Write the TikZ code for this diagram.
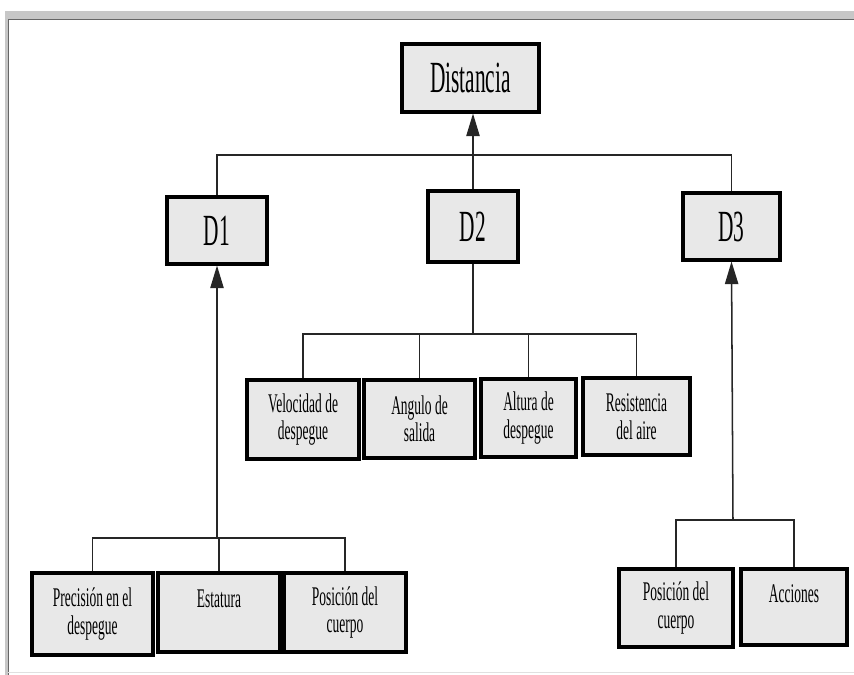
\documentclass[tikz,border=0pt]{standalone}
\usepackage{fontspec}
\newfontfamily\boxfont[FakeStretch=0.5]{Liberation Serif}
\newfontfamily\bigfont[FakeStretch=0.48]{Liberation Serif}
\usetikzlibrary{arrows.meta}

\begin{document}
\begin{tikzpicture}[x=0.03cm, y=-0.03cm,
  box/.style={draw=black, fill=black!9, line width=2.6pt, align=center,
              inner sep=2pt, font=\boxfont\fontsize{23}{23.5}\selectfont},
  bigbox/.style={box, font=\bigfont\fontsize{38}{40}\selectfont},
  line/.style={line width=1.3pt, color=black!85},
  arr/.style={line, -{Triangle[length=0.68cm, width=0.4cm]}},
]
\useasboundingbox (0,0) rectangle (854,675);
% ---- page frame ----
\fill[black!22] (5,11) rectangle (854,19);
\fill[black!22] (5,11) rectangle (8,675);
\draw[black!60, line width=0.8pt] (8,675) |- (854,19.5);
\draw[black!12, line width=0.6pt] (8,672) -- (854,672);
% ---- top level ----
\node[bigbox, minimum width=4.11cm, minimum height=2.04cm] at (470.5,78)  (dist) {Distancia};
\node[bigbox, minimum width=3.0cm,  minimum height=2.01cm] at (217,230.5) (d1) {D1};
\node[bigbox, minimum width=2.7cm,  minimum height=2.13cm] at (473,226.5) (d2) {D2};
\node[bigbox, minimum width=2.91cm, minimum height=2.01cm] at (731.5,226.5) (d3) {D3};
\coordinate (top) at (473,155);
\draw[arr] (d2.north) -- (d2.north |- dist.south);
\draw[line] (d1.north) |- (top) -| (d3.north);
% ---- D2 branch ----
\node[box, minimum width=3.36cm, minimum height=2.37cm] at (303,419.5)   (vel) {Velocidad de\\despegue};
\node[box, minimum width=3.33cm, minimum height=2.34cm] at (419.5,419)   (ang) {Angulo de\\salida};
\node[box, minimum width=2.85cm, minimum height=2.34cm] at (528.5,418)   (alt) {Altura de\\despegue};
\node[box, minimum width=3.21cm, minimum height=2.31cm] at (636.5,416.5) (res) {Resistencia\\del aire};
\coordinate (mid) at (473,334);
\draw[line] (d2.south) -- (mid);
\draw[line] (vel.north) |- (mid) -| (res.north);
\draw[line] (ang.north) -- (ang.north |- mid);
\draw[line] (alt.north) -- (alt.north |- mid);
% ---- D1 branch ----
\node[box, minimum width=3.63cm, minimum height=2.46cm] at (92.5,614)  (prec) {Precisión en el\\despegue};
\node[box, minimum width=3.66cm, minimum height=2.37cm] at (219,612.5) (est)  {Estatura\\\mbox{}};
\node[box, minimum width=3.66cm, minimum height=2.37cm] at (345,612.5) (posa) {Posición del\\cuerpo};
\coordinate (low1) at (217,538);
\draw[arr] (low1) -- (d1.south);
\draw[line] (prec.north) |- (low1) -| (posa.north);
\draw[line] (est.north) -- (est.north |- low1);
% ---- D3 branch ----
\node[box, minimum width=3.42cm, minimum height=2.34cm] at (676,608) (posb) {Posición del\\cuerpo};
\node[box, minimum width=3.18cm, minimum height=2.28cm] at (794,607) (acc)  {Acciones\\\mbox{}};
\coordinate (low3) at (733,520);
\draw[arr] (low3) -- (d3.south);
\draw[line] (posb.north) |- (low3) -| (acc.north);
\end{tikzpicture}
\end{document}
